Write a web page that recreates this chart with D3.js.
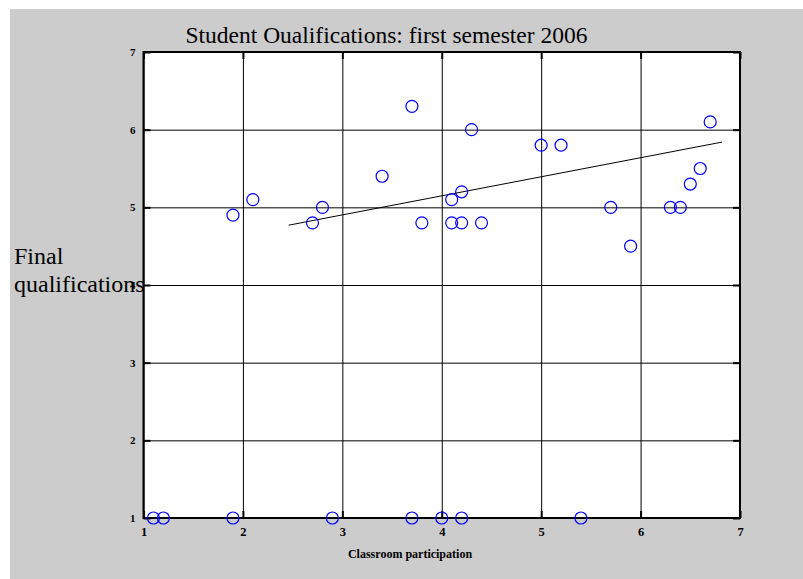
<!DOCTYPE html>
<html>
<head>
<meta charset="utf-8">
<script src="https://cdn.jsdelivr.net/npm/d3@7"></script>
<style>
  html, body { margin: 0; padding: 0; background: #ffffff; }
  svg { display: block; }
</style>
</head>
<body>
<svg id="chart" width="803" height="579"></svg>
<script>
// ---- data ----
const participation = [1.1, 1.2, 1.9, 2.9, 3.7, 4.0, 4.2, 5.4,
  1.9, 2.1, 2.7, 2.8, 3.4, 3.7, 3.8, 4.3, 4.2, 4.1, 4.1, 4.2, 4.4,
  5.0, 5.2, 6.7, 6.6, 6.5, 5.7, 6.3, 6.4, 5.9];
const qualifications = [1, 1, 1, 1, 1, 1, 1, 1,
  4.9, 5.1, 4.8, 5.0, 5.4, 6.3, 4.8, 6.0, 5.2, 5.1, 4.8, 4.8, 4.8,
  5.8, 5.8, 6.1, 5.5, 5.3, 5.0, 5.0, 5.0, 4.5];
const fitX = [2.46, 6.82];
const fitY = [4.77, 5.84];
const xTicks = [1, 2, 3, 4, 5, 6, 7];
const yTicks = [1, 2, 3, 4, 5, 6, 7];
const titleText = "Student Oualifications: first semester 2006";
const xLabelText = "Classroom participation";
const yLabelLines = ["Final", "qualifications"];

// ---- layout ----
const svg = d3.select("#chart");
const L = 143.5, R = 740, T = 52, B = 518;
const serif = "'Liberation Serif', 'Times New Roman', Times, serif";

svg.append("rect").attr("x", 10).attr("y", 9).attr("width", 793).attr("height", 570)
  .attr("fill", "#cccccc");

const x = d3.scaleLinear().domain([1, 7]).range([L, R]);
const y = d3.scaleLinear().domain([1, 7]).range([B, T]);

svg.append("rect").attr("x", L).attr("y", T).attr("width", R - L).attr("height", B - T)
  .attr("fill", "#ffffff");

// grid + tick labels
const gx = svg.append("g").attr("transform", `translate(0,${B})`)
  .call(d3.axisBottom(x).tickValues(xTicks).tickFormat(d3.format("d"))
    .tickSize(-(B - T)).tickPadding(9));
const gy = svg.append("g").attr("transform", `translate(${L},0)`)
  .call(d3.axisLeft(y).tickValues(yTicks).tickFormat(d3.format("d"))
    .tickSize(-(R - L)).tickPadding(8));
[gx, gy].forEach(g => {
  g.select(".domain").remove();
  g.selectAll("line").attr("stroke", "#000").attr("stroke-width", 1);
  g.selectAll("text").attr("fill", "#000").attr("font-family", serif)
    .attr("font-weight", "bold");
});
gx.selectAll("text").attr("font-size", 12.5);
gy.selectAll("text").attr("font-size", 11);

// inward ticks on all sides
const tk = [
  svg.append("g").attr("transform", `translate(0,${B})`).call(d3.axisBottom(x).tickValues(xTicks).tickFormat("").tickSize(-7)),
  svg.append("g").attr("transform", `translate(0,${T})`).call(d3.axisTop(x).tickValues(xTicks).tickFormat("").tickSize(-7)),
  svg.append("g").attr("transform", `translate(${L},0)`).call(d3.axisLeft(y).tickValues(yTicks).tickFormat("").tickSize(-7)),
  svg.append("g").attr("transform", `translate(${R},0)`).call(d3.axisRight(y).tickValues(yTicks).tickFormat("").tickSize(-7))
];
tk.forEach(g => {
  g.select(".domain").remove();
  g.selectAll("line").attr("stroke", "#000").attr("stroke-width", 2);
});

// frame
svg.append("rect").attr("x", L).attr("y", T).attr("width", R - L).attr("height", B - T)
  .attr("fill", "none").attr("stroke", "#000").attr("stroke-width", 2);

// fit line
svg.append("line")
  .attr("x1", x(fitX[0])).attr("y1", y(fitY[0]))
  .attr("x2", x(fitX[1])).attr("y2", y(fitY[1]))
  .attr("stroke", "#000").attr("stroke-width", 1);

// points
svg.append("g").selectAll("circle").data(participation).join("circle")
  .attr("cx", d => x(d))
  .attr("cy", (d, i) => y(qualifications[i]))
  .attr("r", 6)
  .attr("fill", "none")
  .attr("stroke", "#0000ff")
  .attr("stroke-width", 1.2);

// title
svg.append("text").attr("x", 386.5).attr("y", 43).attr("text-anchor", "middle")
  .attr("font-family", serif).attr("font-size", 23.5).attr("fill", "#000")
  .text(titleText);

// x label
svg.append("text").attr("x", 410).attr("y", 558).attr("text-anchor", "middle")
  .attr("font-family", serif).attr("font-size", 12).attr("font-weight", "bold").attr("fill", "#000")
  .text(xLabelText);

// y label
svg.append("g").selectAll("text").data(yLabelLines).join("text")
  .attr("x", 14).attr("y", (d, i) => 264 + i * 28)
  .attr("font-family", serif).attr("font-size", 24).attr("fill", "#000")
  .text(d => d);
</script>
</body>
</html>
